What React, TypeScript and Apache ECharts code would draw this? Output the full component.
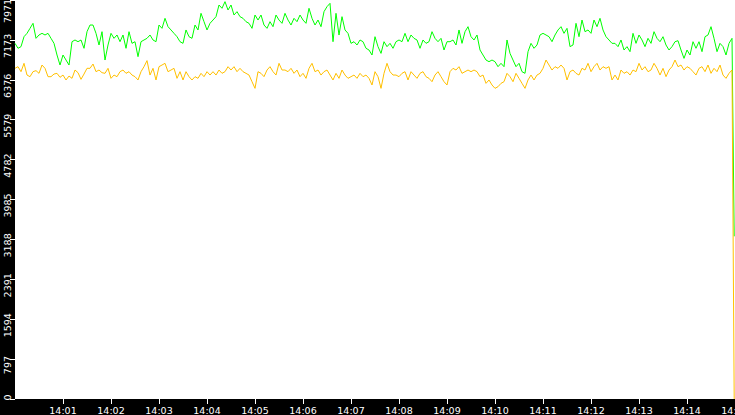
import { useEffect, useRef } from "react";
import * as echarts from "echarts";

const xTickLabels = [
  "14:00", "14:01", "14:02", "14:03", "14:04", "14:05", "14:06", "14:07",
  "14:08", "14:09", "14:10", "14:11", "14:12", "14:13", "14:14", "14:15",
];
const yTickLabels = ["0", "797", "1594", "2391", "3188", "3985", "4782", "5579", "6376", "7173", "7971"];

// one sample every 3.75 s from 14:00:00, the last one is the drop at the end
const sampleSeconds = 3.75;
const lastSecond = 899;

const greenValues = [
  7105, 7006, 7039, 7238, 7305, 7405, 7505, 7205, 7272, 7305, 7272, 7305, 7205, 7105, 6872,
  6672, 6872, 6772, 6672, 7138, 7172, 7138, 7172, 7006, 7338, 7471, 7471, 7305, 7072, 7338,
  6772, 7072, 7305, 7205, 7272, 7138, 7272, 7006, 7338, 7105, 7138, 6839, 7138, 7172, 7205,
  7272, 7172, 7138, 7471, 7405, 7605, 7438, 7372, 7305, 7238, 7138, 7105, 7372, 7238, 7205,
  7471, 7372, 7705, 7538, 7372, 7505, 7571, 7638, 7871, 7805, 7938, 7771, 7871, 7671, 7738,
  7638, 7605, 7538, 7505, 7405, 7671, 7571, 7671, 7471, 7405, 7538, 7438, 7671, 7571, 7505,
  7705, 7571, 7471, 7605, 7538, 7671, 7571, 7505, 7805, 7605, 7471, 7571, 7438, 7738, 7838,
  7904, 7138, 7705, 7271, 7638, 7372, 7305, 7105, 7138, 7072, 7172, 7138, 7006, 6972, 6872,
  7238, 7039, 6905, 7138, 7039, 7105, 7006, 7138, 7172, 7138, 7305, 7138, 7272, 7205, 7172,
  7006, 7172, 7105, 7138, 7338, 7205, 7138, 7205, 6972, 7138, 7138, 7172, 7072, 7372, 7105,
  7338, 7438, 7238, 7172, 7272, 6972, 6872, 6772, 6739, 6772, 6739, 6639, 6706, 6639, 7172,
  6905, 6772, 6639, 6706, 6539, 6506, 6939, 7105, 7006, 7072, 7272, 7305, 7272, 7238, 7138,
  7272, 7372,
  7438, 7305, 7405, 7039, 7072, 7505, 7238, 7571, 7338, 7372, 7305, 7571, 7438, 7605, 7372,
  7238, 7172, 7105, 7105, 7039, 7172, 6972, 7039, 6939, 7305, 7105, 7272, 7172, 7039, 7205,
  7105, 7338, 7205, 7138, 7238, 7072, 6972, 7039, 7138, 7158, 6972, 6805, 6972, 6872, 7138,
  7006, 7138, 6939, 7238, 7272, 7438, 7205, 6939, 7105, 7039, 6872, 7105, 7205,
  3250,
];

const yellowValues = [
  6606, 6639, 6539, 6706, 6472, 6439, 6539, 6560, 6506, 6672, 6606, 6439, 6439, 6492, 6506,
  6426, 6472, 6373, 6452, 6406, 6572, 6519, 6386, 6492, 6606, 6606, 6692, 6539, 6572, 6519,
  6506, 6606, 6406, 6472, 6439, 6539, 6572, 6506, 6539, 6472, 6439, 6373, 6539, 6639, 6760,
  6472, 6606, 6373, 6639, 6672, 6706, 6539, 6572, 6606, 6406, 6539, 6373, 6539, 6439, 6373,
  6439, 6406, 6506, 6439, 6539, 6472, 6539, 6472, 6572, 6506, 6539, 6639, 6572, 6639, 6539,
  6606, 6539, 6506, 6472, 6339, 6206, 6539, 6506, 6439, 6572, 6639, 6539, 6472, 6706, 6572,
  6572, 6539, 6606, 6506, 6572, 6439, 6506, 6406, 6606, 6706, 6539, 6572, 6472, 6539, 6572,
  6472, 6373, 6506, 6406, 6572, 6472, 6406, 6439, 6472, 6406, 6506, 6439, 6472, 6406, 6273,
  6539, 6439, 6206, 6506, 6706, 6539, 6472, 6472, 6439, 6506, 6539, 6373, 6539, 6472, 6406,
  6506, 6539, 6439, 6406, 6339, 6472, 6539, 6439, 6339, 6273, 6539, 6606, 6572, 6639, 6506,
  6539, 6572, 6539, 6572, 6539, 6439, 6472, 6306, 6373, 6273, 6206, 6239, 6306, 6339, 6506,
  6439, 6339, 6506, 6406, 6306, 6206, 6373, 6472, 6373, 6472, 6506, 6606, 6772, 6672, 6572,
  6639, 6606,
  6672, 6606, 6373, 6539, 6572, 6506, 6472, 6606, 6572, 6706, 6539, 6639, 6706, 6572, 6639,
  6606, 6639, 6373, 6472, 6373, 6572, 6506, 6539, 6472, 6572, 6539, 6706, 6572, 6639, 6539,
  6572, 6706, 6606, 6472, 6606, 6439, 6572, 6639, 6772, 6639, 6672, 6572, 6639, 6606, 6539,
  6472, 6606, 6639, 6539, 6672, 6506, 6606, 6539, 6672, 6472, 6406, 6506, 6572,
  0,
];

function toPoints(values: number[]) {
  return values.map((v, i) => [i === values.length - 1 ? lastSecond : i * sampleSeconds, v]);
}

const labelFont = { color: "#fff", fontFamily: "DejaVu Sans", fontSize: 9.5 };

function chartOptions(): echarts.EChartsOption {
  return {
    animation: false,
    backgroundColor: "#000",
    grid: {
      left: 15,
      right: 0,
      top: 0,
      bottom: 16,
      show: true,
      backgroundColor: "#fff",
      borderWidth: 0,
      outerBoundsMode: "none",
    } as any,
    xAxis: {
      type: "value",
      min: 0,
      max: 900,
      interval: 60,
      axisLine: { show: false },
      axisTick: { show: true, length: 5, lineStyle: { color: "#fff", width: 1 } },
      splitLine: { show: false },
      axisLabel: {
        ...labelFont,
        margin: 6,
        showMinLabel: false,
        hideOverlap: false,
        formatter: (v: number) => xTickLabels[Math.round(v / 60)] ?? "",
      },
    },
    yAxis: {
      type: "value",
      min: 0,
      max: 7971,
      interval: 797.1,
      axisLine: { show: false },
      axisTick: { show: true, length: 5, lineStyle: { color: "#fff", width: 1 } },
      splitLine: { show: false },
      axisLabel: {
        ...labelFont,
        rotate: 90,
        margin: 3,
        hideOverlap: false,
        formatter: (v: number) => {
          const i = Math.round(v / 797.1);
          const text = yTickLabels[i] ?? "";
          if (i === 0) return `{low|${text}}`;
          if (i === yTickLabels.length - 1) return `{top|${text}}`;
          return `{mid|${text}}`;
        },
        rich: {
          low: { ...labelFont, padding: [0, 0, 0, 3] },
          mid: { ...labelFont, padding: [0, 12, 0, 0] },
          top: { ...labelFont, padding: [0, 22, 0, 0] },
        },
      },
    },
    series: [
      {
        name: "green",
        type: "line",
        data: toPoints(greenValues),
        showSymbol: false,
        symbol: "none",
        lineStyle: { color: "#00ff00", width: 1 },
        itemStyle: { color: "#00ff00" },
        silent: true,
      },
      {
        name: "yellow",
        type: "line",
        data: toPoints(yellowValues),
        showSymbol: false,
        symbol: "none",
        lineStyle: { color: "#ffc000", width: 1 },
        itemStyle: { color: "#ffc000" },
        silent: true,
      },
    ],
  };
}

export default function App() {
  const nodeRef = useRef<HTMLDivElement | null>(null);

  useEffect(() => {
    if (!nodeRef.current) return;
    const chart = echarts.init(nodeRef.current, undefined, { renderer: "svg" });
    chart.setOption(chartOptions());
    return () => chart.dispose();
  }, []);

  return (
    <div
      ref={nodeRef}
      style={{ position: "absolute", left: 0, top: 0, width: 735, height: 415 }}
    />
  );
}
